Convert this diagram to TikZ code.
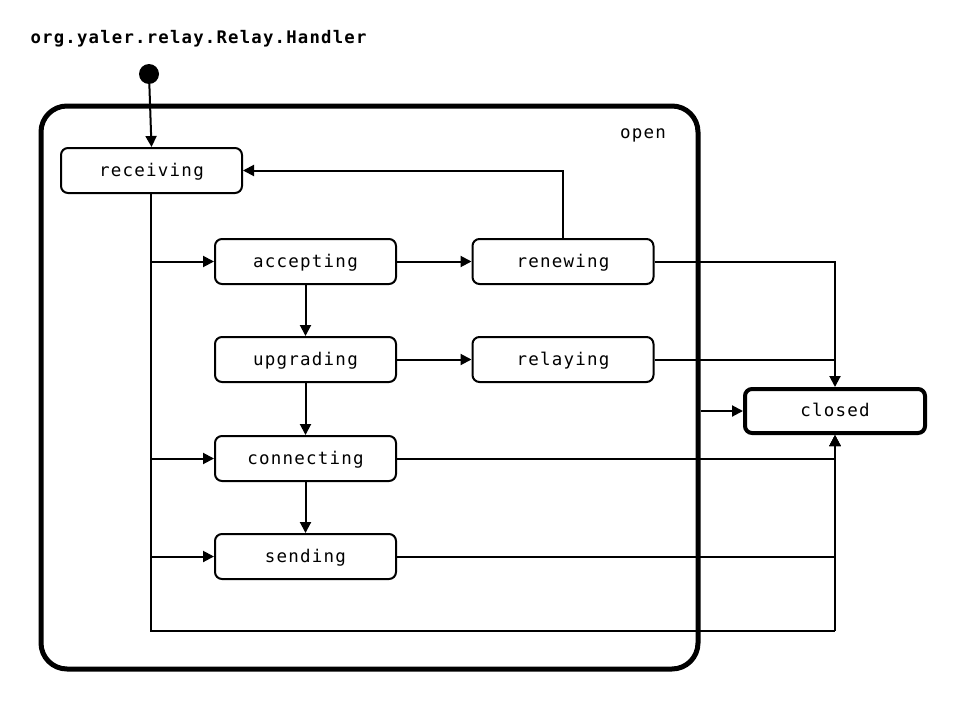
\documentclass[tikz,border=0pt]{standalone}
\usepackage{fontspec}
\newfontfamily\monofont[LetterSpace=7]{DejaVu Sans Mono}
\usetikzlibrary{arrows.meta}
\begin{document}
\begin{tikzpicture}[x=1pt,y=-1pt,
  txt/.style={font=\monofont\fontsize{17.5}{20}\selectfont,text height=11pt,text depth=0pt},
  statebox/.style={txt,draw,line width=2pt,rounded corners=7pt,minimum width=181pt,minimum height=45pt,inner sep=0pt},
  conn/.style={line width=2pt,-{Triangle[length=11pt,width=11pt]}},
  plain/.style={line width=2pt}
]
\useasboundingbox (0,0) rectangle (960,720);
\node[font=\monofont\bfseries\fontsize{17.3}{20}\selectfont,text height=11pt,text depth=0pt,anchor=west] (title) at (27,38) {org.yaler.relay.Relay.Handler};
\node[circle,fill,inner sep=0pt,minimum size=20pt] (init) at (149,74) {};
\node[draw,line width=5pt,rounded corners=26pt,minimum width=657pt,minimum height=563pt,inner sep=0pt] (open) at (369.5,387.5) {};
\node[txt] (openlbl) at (643,133) {open};
\node[statebox] (receiving) at (151.5,170.5) {receiving};
\node[statebox] (accepting) at (305.5,261.5) {accepting};
\node[statebox] (renewing) at (563,261.5) {renewing};
\node[statebox] (upgrading) at (305.5,359.5) {upgrading};
\node[statebox] (relaying) at (563,359.5) {relaying};
\node[statebox] (connecting) at (305.5,458.5) {connecting};
\node[statebox] (sending) at (305.5,556.5) {sending};
\node[statebox,line width=4pt,minimum width=180pt,minimum height=44pt] (closed) at (835,411) {closed};

\coordinate (trunkbot) at (151,631);
\coordinate (right) at (835,631);

\draw[conn] (init) -- (receiving.north);
\draw[conn] (renewing.north) |- (receiving.east);
\draw[plain] (receiving.south -| trunkbot) -- (trunkbot) -- (right);
\draw[conn] (right) -- (closed.south);
\draw[conn] (accepting.west -| trunkbot) -- (accepting.west);
\draw[conn] (connecting.west -| trunkbot) -- (connecting.west);
\draw[conn] (sending.west -| trunkbot) -- (sending.west);
\draw[conn] (accepting) -- (renewing);
\draw[conn] (accepting) -- (upgrading);
\draw[conn] (upgrading) -- (relaying);
\draw[conn] (upgrading) -- (connecting);
\draw[conn] (connecting) -- (sending);
\draw[conn] (renewing.east) -| (closed.north);
\draw[plain] (relaying.east) -- (relaying.east -| closed.north);
\draw[conn] (connecting.east) -| (closed.south);
\draw[conn] (sending.east) -| (closed.south);
\draw[conn] (open.east |- closed.west) -- (closed.west);
\end{tikzpicture}
\end{document}
